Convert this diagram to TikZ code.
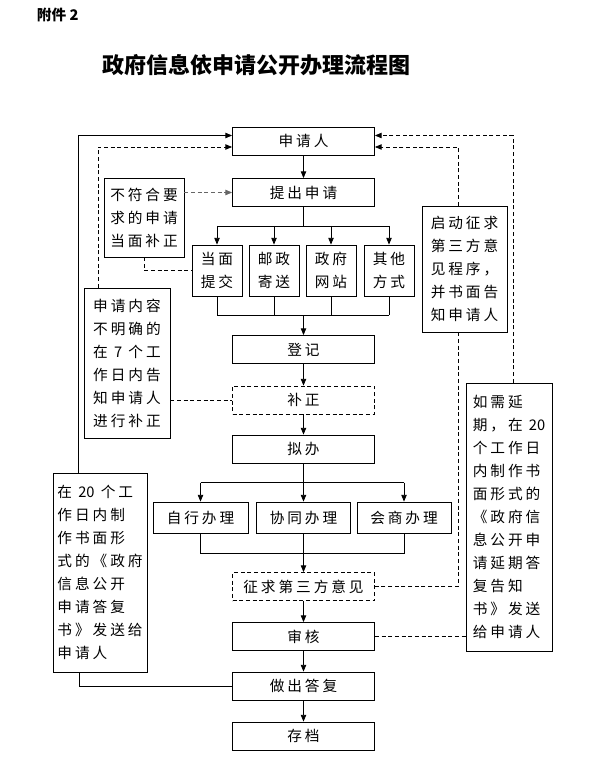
\documentclass[tikz,border=0pt]{standalone}
\usepackage{fontspec}
\newfontfamily\cjk[LetterSpace=20]{Noto Sans CJK SC}
\newfontfamily\cjkt{Noto Sans CJK SC}
\usetikzlibrary{arrows.meta}
\begin{document}
\begin{tikzpicture}[x=0.75pt,y=-0.75pt,
  font=\cjk\fontsize{11}{17.25}\selectfont,
  line width=0.6pt,
  box/.style={draw, line width=0.6pt, inner sep=0pt, align=center},
  cbox/.style={box, minimum width=106.5pt, minimum height=21pt},
  sbox/.style={box, minimum width=37.5pt, minimum height=38.25pt},
  tbox/.style={box, minimum width=70.5pt, minimum height=23.25pt},
  side/.style={box, align=left},
  dsh/.style={dash pattern=on 3pt off 2pt},
  arr/.style={-{Triangle[length=5pt,width=4pt]}}
]
\fill[white] (0,0) rectangle (597,766);
\useasboundingbox (0,0) rectangle (597,766);

\node[font=\cjkt\bfseries\fontsize{11}{13}\selectfont, anchor=west] (fj) at (32,15) {附件 2};
\node[font=\cjkt\bfseries\fontsize{16.5}{20}\selectfont] (title) at (256,65) {政府信息依申请公开办理流程图};

% central column
\node[cbox] (sqr) at (303.5,141) {申请人};
\node[cbox] (tc) at (303.5,192.5) {提出申请};
\node[sbox] (dm) at (217,270.5) {当面\\提交};
\node[sbox] (yz) at (274,270.5) {邮政\\寄送};
\node[sbox] (zf) at (331,270.5) {政府\\网站};
\node[sbox] (qt) at (389,270.5) {其他\\方式};
\node[cbox] (dj) at (303.5,349.5) {登记};
\node[cbox,dsh] (bz) at (303.5,400) {补正};
\node[cbox] (nb) at (303.5,449) {拟办};
\node[tbox,minimum width=71.25pt] (zx) at (200.5,517.5) {自行办理};
\node[tbox] (xt) at (303.5,517.5) {协同办理};
\node[tbox] (hs) at (404,517.5) {会商办理};
\node[cbox,dsh] (zq) at (303.5,586.5) {征求第三方意见};
\node[cbox] (sh) at (303.5,636.5) {审核};
\node[cbox] (zc) at (303.5,686) {做出答复};
\node[cbox] (cd) at (303.5,736) {存档};

% side boxes
\node[side,minimum width=60pt,minimum height=59.25pt] (bf) at (144,217.5) {不符合要\\求的申请\\当面补正};
\node[side,minimum width=64.5pt,minimum height=112.5pt] (nr) at (127,363) {申请内容\\不明确的\\在 {\cjkt 7} 个工\\作日内告\\知申请人\\进行补正};
\node[side,minimum width=70.5pt,minimum height=149.25pt] (z20) at (100,572.5) {在 {\cjkt 20} 个工\\作日内制\\作书面形\\式的《政府\\信息公开\\申请答复\\书》发送给\\申请人};
\node[side,minimum width=63.75pt,minimum height=94.5pt] (qd) at (464.5,269) {启动征求\\第三方意\\见程序，\\并书面告\\知申请人};
\node[side,minimum width=64.5pt,minimum height=201pt] (yq) at (509,517) {如需延\\期，在 {\cjkt 20}\\个工作日\\内制作书\\面形式的\\《政府信\\息公开申\\请延期答\\复告知\\书》发送\\给申请人};

% main flow
\draw[arr] (sqr) -- (tc);
\coordinate (j1) at (303.5,226);
\draw (tc.south) -- (j1);
\draw (dm.north |- j1) -- (qt.north |- j1);
\foreach \b in {dm,yz,zf,qt} \draw[arr] (\b.north |- j1) -- (\b.north);
\coordinate (j2) at (303.5,315);
\foreach \b in {dm,yz,zf,qt} \draw (\b.south) -- (\b.south |- j2);
\draw (dm.south |- j2) -- (qt.south |- j2);
\draw[arr] (j2) -- (dj.north);
\draw[arr] (dj) -- (bz);
\draw[arr] (bz) -- (nb);
\coordinate (j3) at (303.5,482.7);
\draw (nb.south) -- (j3);
\draw (zx.north |- j3) -- (hs.north |- j3);
\foreach \b in {zx,xt,hs} \draw[arr] (\b.north |- j3) -- (\b.north);
\coordinate (j4) at (303.5,553);
\draw (zx.south) -- (zx.south |- j4) -- (hs.south |- j4) -- (hs.south);
\draw[arr] (xt.south) -- (zq.north);
\draw[arr] (zq) -- (sh);
\draw[arr] (sh) -- (zc);
\draw[arr] (zc) -- (cd);

% side connectors
\draw[dsh,arr,black!60] (bf.east |- tc) -- (tc.west);
\draw[dsh] (bf.south) -- (bf.south |- dm) -- (dm.west);
\draw[dsh] (nr.east |- bz) -- (bz.west);
\coordinate (c1) at (98,147);
\draw[dsh,arr] (nr.north -| c1) -- (c1) -- (c1 -| sqr.west);
\coordinate (c2) at (78.5,135.5);
\draw[arr] (z20.north -| c2) -- (c2) -- (c2 -| sqr.west);
\coordinate (c3) at (79,686);
\draw (z20.south -| c3) -- (c3 |- zc.west) -- (zc.west);
\coordinate (c4) at (458,147);
\draw[dsh,arr] (qd.north -| c4) -- (c4) -- (c4 -| sqr.east);
\draw[dsh] (qd.south -| c4) -- (c4 |- zq.east) -- (zq.east);
\coordinate (c5) at (513,135.5);
\draw[dsh,arr] (yq.north -| c5) -- (c5) -- (c5 -| sqr.east);
\draw[dsh] (sh.east) -- (sh.east -| yq.west);
\end{tikzpicture}
\end{document}
